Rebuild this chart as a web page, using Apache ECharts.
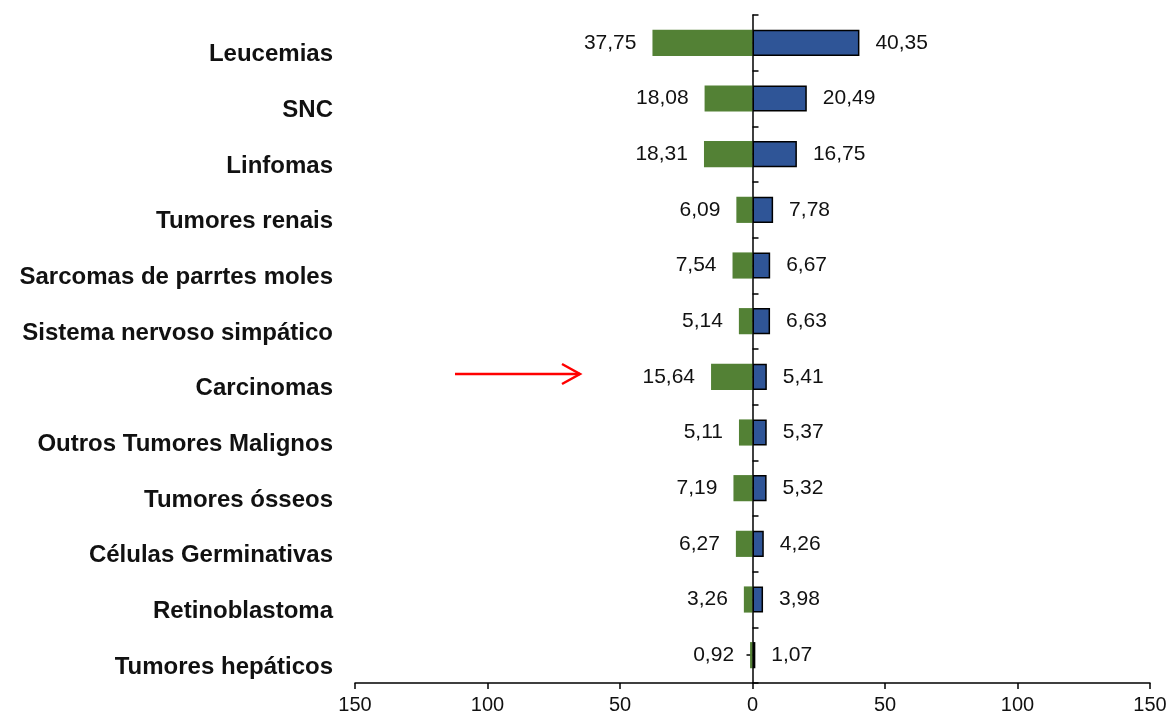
<!DOCTYPE html>
<html>
<head>
<meta charset="utf-8">
<title>Tumores</title>
<script src="https://cdn.jsdelivr.net/npm/echarts@6/dist/echarts.min.js"></script>
<style>
  html, body { margin: 0; padding: 0; background: #fff; }
  #chart { width: 1169px; height: 718px; }
</style>
</head>
<body>
<div id="chart"></div>
<script>
// categories top to bottom
const categories = [
  'Leucemias',
  'SNC',
  'Linfomas',
  'Tumores renais',
  'Sarcomas de parrtes moles',
  'Sistema nervoso simpático',
  'Carcinomas',
  'Outros Tumores Malignos',
  'Tumores ósseos',
  'Células Germinativas',
  'Retinoblastoma',
  'Tumores hepáticos'
]
const greenValues = [37.75, 18.08, 18.31, 6.09, 7.54, 5.14, 15.64, 5.11, 7.19, 6.27, 3.26, 0.92]
const blueValues = [40.35, 20.49, 16.75, 7.78, 6.67, 6.63, 5.41, 5.37, 5.32, 4.26, 3.98, 1.07]
const xTicks = [-150, -100, -50, 0, 50, 100, 150]

const fmt = v => Math.abs(v).toFixed(2).replace('.', ',')

const chart = echarts.init(document.getElementById('chart'))

const gridLeft = 355
const gridRight = 19
const halfWidth = (1169 - gridLeft - gridRight) / 2
const tickStyle = { color: '#000', width: 1.5 }

const option = {
  backgroundColor: '#fff',
  animation: false,
  textStyle: { fontFamily: 'Liberation Sans, Arial, sans-serif' },
  grid: {
    left: gridLeft, right: gridRight, top: 15, bottom: 35,
    containLabel: false, outerBoundsMode: 'none'
  },
  xAxis: {
    type: 'value',
    min: xTicks[0],
    max: xTicks[xTicks.length - 1],
    interval: 50,
    axisLine: { show: true, onZero: false, lineStyle: tickStyle },
    axisTick: { show: true, length: 6, lineStyle: tickStyle },
    splitLine: { show: false },
    axisLabel: {
      color: '#111',
      fontSize: 20,
      margin: 12,
      formatter: v => String(Math.abs(v))
    }
  },
  yAxis: [
    // category labels at the far left, sitting a little below the bar centre
    {
      type: 'category',
      data: categories,
      inverse: true,
      position: 'left',
      axisLine: { show: false, onZero: false },
      axisTick: { show: false },
      axisLabel: {
        color: '#111',
        fontSize: 24,
        fontWeight: 'bold',
        margin: 22,
        verticalAlign: 'top',
        hideOverlap: false
      }
    },
    // zero line with boundary ticks pointing right
    {
      type: 'category',
      data: categories,
      inverse: true,
      position: 'left',
      offset: -halfWidth,
      axisLine: { show: true, onZero: false, lineStyle: tickStyle },
      axisTick: { show: true, inside: true, length: 6, lineStyle: tickStyle },
      axisLabel: { show: false }
    },
    // centre ticks pointing left
    {
      type: 'category',
      data: categories,
      inverse: true,
      position: 'left',
      offset: -halfWidth,
      axisLine: { show: false, onZero: false },
      axisTick: { show: true, alignWithLabel: true, length: 6, lineStyle: tickStyle },
      axisLabel: { show: false }
    }
  ],
  series: [
    {
      name: 'green',
      type: 'bar',
      stack: 'total',
      barWidth: '47%',
      data: greenValues.map(v => -v),
      itemStyle: { color: '#538135' },
      label: {
        show: true,
        position: 'left',
        distance: 16,
        color: '#111',
        fontSize: 21,
        formatter: p => fmt(p.value)
      },
      z: 1
    },
    {
      name: 'blue',
      type: 'bar',
      stack: 'total',
      barWidth: '47%',
      data: blueValues,
      itemStyle: { color: '#2f5597', borderColor: '#000', borderWidth: 1.5 },
      label: {
        show: true,
        position: 'right',
        distance: 16,
        color: '#111',
        fontSize: 21,
        formatter: p => fmt(p.value)
      },
      z: 1
    }
  ],
  graphic: [
    // red arrow annotation pointing at Carcinomas
    {
      type: 'group',
      z: 100,
      children: [
        {
          type: 'line',
          shape: { x1: 455, y1: 374, x2: 580, y2: 374 },
          style: { stroke: '#ff0000', lineWidth: 2.5 }
        },
        {
          type: 'polyline',
          shape: { points: [[562, 364], [580, 374], [562, 384]] },
          style: { stroke: '#ff0000', lineWidth: 2.5, fill: null }
        }
      ]
    }
  ]
}

chart.setOption(option)
</script>
</body>
</html>
